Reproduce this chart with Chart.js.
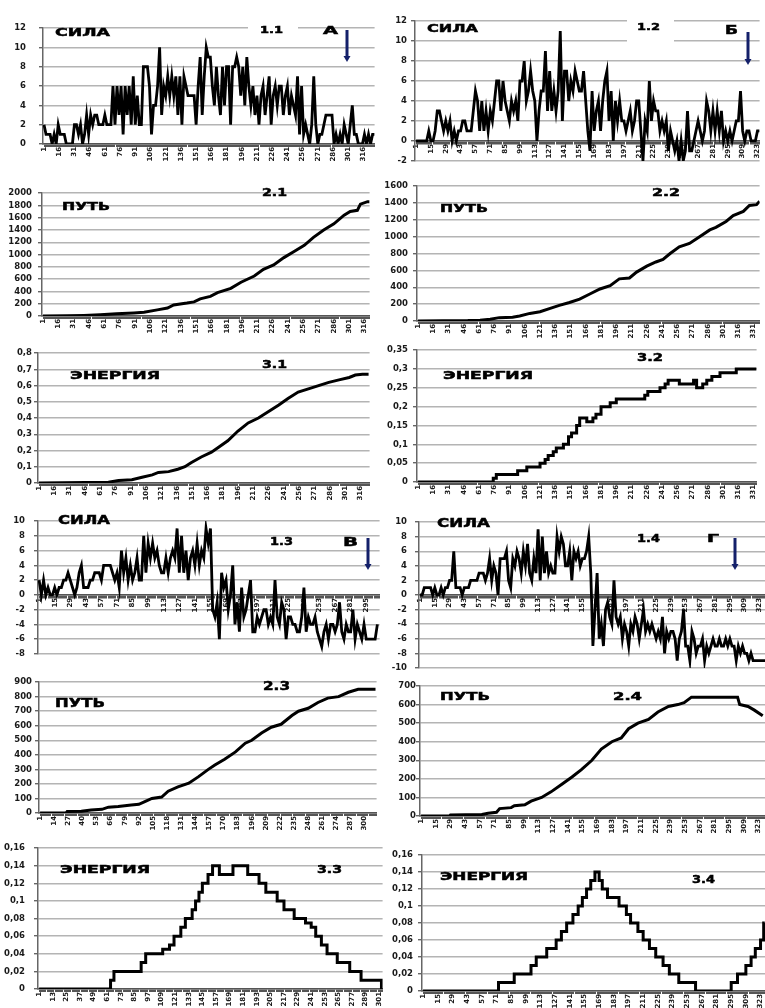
<!DOCTYPE html>
<html>
<head>
<meta charset="utf-8">
<script src="https://cdn.jsdelivr.net/npm/chart.js@4.4.0/dist/chart.umd.min.js"></script>
<style>
html,body{margin:0;padding:0;background:#fff;overflow:hidden;width:765px;height:1008px;position:relative}
.panel{position:absolute}
.lbl{position:absolute;font-family:'DejaVu Sans',sans-serif;font-weight:bold;color:#000;white-space:nowrap;transform-origin:0 0;line-height:1;-webkit-text-stroke:0.5px #000}
.mask{position:absolute;background:#fff}
svg{position:absolute;left:0;top:0}
</style>
</head>
<body>
<script>
// ---- Force (СИЛА), one reading every 2nd step ----
const force11 = [2,1,1,1,0,1,0,2,1,1, 1,0,0,0,0,2,2,1,2,0, 1,3,1,3,2,3,3,2,2,2, 3,2,2,2,6,2,6,3,6,1,
  6,3,6,2,7,2,5,2,2,8, 8,8,6,1,4,4,6,10,3,6, 5,7,5,7,5,7,3,7,2,7, 6,5,5,5,5,2,6,9,3,7,
  10,9,9,6,4,8,5,3,8,4, 8,8,2,8,8,9,8,5,8,4, 9,6,4,6,3,5,2,5,6,3, 5,7,2,5,6,4,6,6,3,5,
  6,3,5,4,3,7,1,6,1,2, 1,0,2,7,2,0,1,1,2,3, 3,3,3,0,1,0,1,0,2,1, 0,2,4,1,1,0,0,0,1,0,1,0,1,1];
const force12 = [0,0,0,0,0,0,1,0,0,1, 3,3,2,1,2,1,2,0,1,0, 1,1,2,2,1,1,1,3,5,4, 1,4,1,3,1,3,2,4,6,6,
  3,6,4,3,2,4,3,4,2,6, 6,8,4,5,7,5,4,0,3,5, 5,9,3,7,3,5,3,5,11,2, 7,7,4,6,5,7,6,5,5,7,
  4,1,-1,5,1,3,4,1,4,6, 7,2,5,0,4,2,4,2,2,1, 2,3,1,2,4,4,1,-2,2,1, 6,2,4,3,3,1,2,1,2,-1,
  1,0,-1,0,-2,0,-2,-1,3,-1, -1,0,1,2,1,0,1,4,3,1, 3,1,3,1,3,0,1,0,1,0, 1,2,2,5,1,0,1,1,0,0,0,1,1];
const force13 = [2,0,2,0,1,0,0,1,0,1, 1,2,2,3,2,1,0,1,3,4, 1,1,1,2,2,3,3,3,2,4, 4,4,4,3,2,3,1,6,3,5,
  2,4,2,3,5,2,2,8,3,7, 5,7,5,6,4,3,3,5,3,5, 6,5,9,3,8,3,6,2,5,6, 4,7,4,6,5,9,7,9,-2,-3,
  -1,-6,3,1,2,-2,0,4,-4,-1, -5,1,-3,-2,0,2,-5,-5,-3,-4, -3,-2,-2,-4,-3,-4,2,-3,-4,-1,
  -2,-6,-3,-3,-4,-4,-5,-5,-3,1, -5,-3,-4,-4,-3,-5,-6,-7,-5,-4, -6,-4,-4,-5,-4,-1,-5,-6,-4,-5,
  -5,-2,-6,-4,-5,-6,-4,-6,-6,-6,-6,-6,-4];
const force14 = [0,0,1,1,1,1,0,1,0,0, 1,0,1,1,2,2,6,1,1,1, 0,1,1,1,2,2,2,2,3,3, 3,2,3,5,2,4,3,0,5,5,
  5,6,2,1,5,4,6,5,3,6, 4,7,3,2,5,3,9,2,8,3, 6,3,4,3,3,8,6,8,7,4, 4,6,2,6,5,6,4,5,5,6,
  8,3,-7,-2,3,-6,-4,-7,-2,-1, -3,-4,2,-3,-4,-3,-6,-4,-5,-7, -4,-5,-3,-4,-6,-4,-2,-5,-4,-5,
  -4,-5,-6,-5,-6,-3,-8,-5,-6,-5, -5,-6,-9,-6,-5,-2,-7,-7,-9,-5, -6,-8,-7,-7,-6,-9,-7,-8,-7,-6,
  -7,-7,-6,-7,-7,-6,-7,-6,-7,-7, -9,-7,-8,-7,-8,-8,-9,-8,-9,-9, -9,-9,-9,-9,-9];

// ---- Path (ПУТЬ): step number / value readings ----
const path21X = [1,25,41,57,73,90,100,113,123,129,142,149,155,165,172,185,195,208,217,227,237,247,257,266,276,286,296,302,309,312,319,321];
const path21Y = [0,5,10,20,35,50,60,100,130,180,210,230,280,320,380,450,550,650,760,830,950,1050,1150,1280,1400,1500,1640,1700,1720,1820,1860,1860];
const path22X = [1,50,62,72,81,94,101,111,121,131,140,150,160,170,180,190,199,209,216,226,235,242,249,258,268,278,288,294,304,311,321,327,334,337];
const path22Y = [0,5,10,20,40,45,60,90,110,150,185,220,260,320,380,420,500,510,580,650,700,730,800,880,920,1000,1080,1110,1180,1250,1300,1370,1380,1420];
const path23X = [1,25,26,39,48,58,64,73,85,92,98,104,113,119,128,138,147,156,162,171,181,190,196,205,214,223,233,239,248,257,266,276,285,294,303,310];
const path23Y = [0,0,10,12,20,25,40,45,55,60,80,100,110,150,180,205,250,300,330,370,420,480,500,550,590,610,670,700,720,760,790,800,830,850,850,850];
const path24X = [1,28,29,59,65,73,76,87,90,100,106,116,125,135,145,154,164,173,183,192,199,208,218,227,237,246,252,259,303,305,313,319,327];
const path24Y = [0,0,5,8,15,20,40,45,55,60,80,100,130,170,210,250,300,360,400,420,470,500,520,560,590,600,610,640,640,600,590,570,540];

// ---- Energy (ЭНЕРГИЯ): step number / value readings ----
const energy31X = [1,69,79,92,102,112,118,128,137,144,150,160,170,177,186,196,206,216,226,236,245,255,265,275,285,295,305,311,318,324];
const energy31Y = [0,0.005,0.015,0.02,0.035,0.05,0.065,0.07,0.085,0.1,0.125,0.16,0.19,0.22,0.26,0.32,0.37,0.4,0.44,0.48,0.52,0.56,0.58,0.6,0.62,0.635,0.65,0.665,0.67,0.67];
const energy32X = [1,75,78,99,108,121,126,129,134,137,144,149,152,157,160,167,173,176,181,190,196,224,227,239,244,247,258,272,275,281,285,290,298,314,334];
const energy32Y = [0,0.01,0.02,0.03,0.04,0.05,0.06,0.07,0.08,0.09,0.1,0.12,0.13,0.15,0.17,0.16,0.17,0.18,0.2,0.21,0.22,0.23,0.24,0.25,0.26,0.27,0.26,0.27,0.25,0.26,0.27,0.28,0.29,0.3,0.3];
const energy33X = [1,64,67,91,95,110,116,120,126,130,136,139,142,145,150,154,160,172,185,195,201,211,217,226,236,241,245,250,255,264,275,285,303,304];
const energy33Y = [0,0.01,0.02,0.03,0.04,0.045,0.05,0.06,0.07,0.08,0.09,0.1,0.11,0.12,0.13,0.14,0.13,0.14,0.13,0.12,0.11,0.1,0.09,0.08,0.075,0.07,0.06,0.05,0.04,0.03,0.02,0.01,0,0];
const energy34X = [1,73,88,104,109,119,128,133,138,144,149,153,157,161,165,169,172,177,188,195,199,206,211,217,223,230,236,245,261,295,301,309,314,318,323,326,327];
const energy34Y = [0,0.01,0.02,0.03,0.04,0.05,0.06,0.07,0.08,0.09,0.1,0.11,0.12,0.13,0.14,0.13,0.12,0.11,0.1,0.09,0.08,0.07,0.06,0.05,0.04,0.03,0.02,0.01,0,0.01,0.02,0.03,0.04,0.05,0.06,0.08,0.08];

// ---- Panel captions ----
const captions = [
  ['СИЛА', 55, 28, 55, 8.3], ['1.1', 260, 27, 23, 6.5], ['А', 323, 27, 15, 8],
  ['СИЛА', 427, 25, 51, 8], ['1.2', 637, 23, 23, 7], ['Б', 725, 25, 13, 9],
  ['ПУТЬ', 62, 203, 48, 8], ['2.1', 262, 188, 25, 7.5],
  ['ПУТЬ', 440, 205, 48, 8], ['2.2', 652, 188, 28, 7.5],
  ['ЭНЕРГИЯ', 70, 372, 90, 8], ['3.1', 262, 360, 25, 7.5],
  ['ЭНЕРГИЯ', 443, 372, 90, 8], ['3.2', 637, 353, 26, 7.5],
  ['СИЛА', 58, 515, 52, 9], ['1.3', 270, 538, 23, 8], ['В', 343, 537, 15, 9],
  ['СИЛА', 437, 518, 53, 9], ['1.4', 637, 535, 23, 8], ['Г', 707, 535, 12, 8],
  ['ПУТЬ', 55, 698, 50, 9], ['2.3', 263, 682, 27, 8.5],
  ['ПУТЬ', 440, 693, 50, 8], ['2.4', 613, 692, 29, 7.5],
  ['ЭНЕРГИЯ', 60, 865, 90, 7.5], ['3.3', 317, 865, 25, 7.5],
  ['ЭНЕРГИЯ', 440, 873, 88, 8], ['3.4', 692, 875, 23, 7.5]
];

Chart.defaults.font.family = "'DejaVu Sans', sans-serif";

const PT = 6, PR = 8, PB = 6, XH = 22, YW = 46;

function everyStep(n) {
  const a = [];
  for (let v = 1; v <= n; v++) a.push({ value: v });
  return a;
}
function decimalComma(v) {
  const r = Math.round(v * 1000) / 1000;
  return String(r).replace('.', ',');
}
function sampled(values) {
  return values.map((v, k) => ({ x: 1 + 2 * k, y: v }));
}
function paired(xs, ys) {
  return xs.map((x, k) => ({ x: x, y: ys[k] }));
}

function panel(p) {
  const crossing = p.yMin < 0;
  const w = YW + (p.right - p.left) + PR;
  const h = PT + (p.bottom - p.top) + (crossing ? PB : XH);
  const div = document.createElement('div');
  div.className = 'panel';
  div.style.left = (p.left - YW) + 'px';
  div.style.top = (p.top - PT) + 'px';
  div.style.width = w + 'px';
  div.style.height = h + 'px';
  const c = document.createElement('canvas');
  c.width = w; c.height = h;
  c.style.width = w + 'px'; c.style.height = h + 'px';
  div.appendChild(c);
  document.body.appendChild(div);

  new Chart(c, {
    type: 'line',
    data: {
      datasets: [{
        data: p.data,
        borderColor: '#000',
        borderWidth: p.lw || 2.6,
        pointRadius: 0,
        tension: 0,
        stepped: p.stepped || false,
        fill: false
      }]
    },
    options: {
      responsive: false,
      animation: false,
      devicePixelRatio: 1,
      layout: { padding: { top: PT, right: PR, bottom: crossing ? PB : 0, left: 0 } },
      plugins: { legend: { display: false }, tooltip: { enabled: false } },
      scales: {
        x: {
          type: 'linear',
          min: 0,
          max: p.xMax,
          position: crossing ? { y: 0 } : 'bottom',
          afterBuildTicks: s => { s.ticks = everyStep(p.xMax); },
          afterFit: s => { if (!crossing) s.height = XH; },
          ticks: {
            autoSkip: false, minRotation: 90, maxRotation: 90, padding: 0,
            color: '#1a1a1a',
            font: { size: 7, weight: 'bold' },
            callback: v => ((v - 1) % p.step === 0 ? String(v) : '')
          },
          grid: { drawOnChartArea: false, drawTicks: true, tickLength: 3, color: '#555', lineWidth: 1 },
          border: { display: true, color: '#555', width: 1.5 }
        },
        y: {
          min: p.yMin, max: p.yMax,
          afterFit: s => { s.width = YW; },
          ticks: {
            stepSize: p.yStep, padding: p.pad, color: '#1a1a1a', autoSkip: false,
            font: { size: 8.5, weight: 'bold' },
            callback: v => decimalComma(v)
          },
          grid: { color: '#b4b4b4', lineWidth: 1.4, drawTicks: true, tickLength: 4, tickColor: '#666' },
          border: { display: true, color: '#666', width: 1.5 }
        }
      }
    }
  });
}

const panels = [
  { left: 43, right: 375, top: 16, bottom: 144, xMax: 327, step: 15, yMin: 0, yMax: 12, yStep: 2, pad: 13, data: sampled(force11), lw: 2.8 },
  { left: 415, right: 760, top: 18, bottom: 164, xMax: 325, step: 14, yMin: -2, yMax: 12, yStep: 2, pad: 4, data: sampled(force12), lw: 2.8 },
  { left: 42, right: 370, top: 188, bottom: 316, xMax: 321, step: 15, yMin: 0, yMax: 2000, yStep: 200, pad: 6, data: paired(path21X, path21Y), lw: 3 },
  { left: 417, right: 760, top: 182, bottom: 321, xMax: 337, step: 15, yMin: 0, yMax: 1600, yStep: 200, pad: 5, data: paired(path22X, path22Y), lw: 3 },
  { left: 38, right: 370, top: 352, bottom: 483, xMax: 325, step: 15, yMin: 0, yMax: 0.8, yStep: 0.1, pad: 2, data: paired(energy31X, energy31Y), lw: 3 },
  { left: 417, right: 757, top: 346, bottom: 482, xMax: 334, step: 15, yMin: 0, yMax: 0.35, yStep: 0.05, pad: 5, data: paired(energy32X, energy32Y), lw: 3, stepped: true },
  { left: 38, right: 380, top: 513, bottom: 662, xMax: 307, step: 14, yMin: -8, yMax: 10, yStep: 2, pad: 9, data: sampled(force13), lw: 2.8 },
  { left: 419, right: 783, top: 515, bottom: 675, xMax: 345, step: 14, yMin: -10, yMax: 10, yStep: 2, pad: 8, data: sampled(force14), lw: 2.8 },
  { left: 39, right: 377, top: 680, bottom: 813, xMax: 311, step: 13, yMin: 0, yMax: 900, yStep: 100, pad: 3, data: paired(path23X, path23Y), lw: 3 },
  { left: 420, right: 782, top: 686, bottom: 816, xMax: 345, step: 14, yMin: 0, yMax: 700, yStep: 100, pad: 0, data: paired(path24X, path24Y), lw: 3 },
  { left: 38, right: 383, top: 840, bottom: 989, xMax: 304, step: 12, yMin: 0, yMax: 0.16, yStep: 0.02, pad: 9, data: paired(energy33X, energy33Y), lw: 3, stepped: true },
  { left: 422, right: 784, top: 851, bottom: 991, xMax: 345, step: 14, yMin: 0, yMax: 0.16, yStep: 0.02, pad: 5, data: paired(energy34X, energy34Y), lw: 3, stepped: true }
];
panels.forEach(panel);

// white boxes behind the panel numbers of the first row
[[248, 12, 50, 30], [627, 13, 47, 31]].forEach(([x, y, w, h]) => {
  const m = document.createElement('div');
  m.className = 'mask';
  Object.assign(m.style, { left: x + 'px', top: y + 'px', width: w + 'px', height: h + 'px' });
  document.body.appendChild(m);
});

// captions, stretched horizontally to the wide heavy lettering
captions.forEach(([s, x, y, w, h]) => {
  const d = document.createElement('div');
  d.className = 'lbl';
  d.textContent = s;
  const fs = h / 0.73;
  d.style.fontSize = fs + 'px';
  document.body.appendChild(d);
  const nat = d.getBoundingClientRect().width;
  d.style.left = x + 'px';
  d.style.top = (y - 0.12 * fs) + 'px';
  d.style.transform = 'scaleX(' + (w / nat).toFixed(3) + ')';
});

// downward arrows next to the scenario letters
const arrows = [[347, 30, 62], [748, 32, 65], [368, 538, 570], [735, 538, 570]];
const ns = 'http://www.w3.org/2000/svg';
const svg = document.createElementNS(ns, 'svg');
svg.setAttribute('width', 765); svg.setAttribute('height', 1008);
arrows.forEach(([x, y1, y2]) => {
  const l = document.createElementNS(ns, 'line');
  l.setAttribute('x1', x); l.setAttribute('x2', x);
  l.setAttribute('y1', y1); l.setAttribute('y2', y2 - 4);
  l.setAttribute('stroke', '#14206a'); l.setAttribute('stroke-width', 3);
  svg.appendChild(l);
  const t = document.createElementNS(ns, 'polygon');
  t.setAttribute('points', (x - 3.5) + ',' + (y2 - 6) + ' ' + (x + 3.5) + ',' + (y2 - 6) + ' ' + x + ',' + y2);
  t.setAttribute('fill', '#14206a');
  svg.appendChild(t);
});
document.body.appendChild(svg);
</script>
</body>
</html>
